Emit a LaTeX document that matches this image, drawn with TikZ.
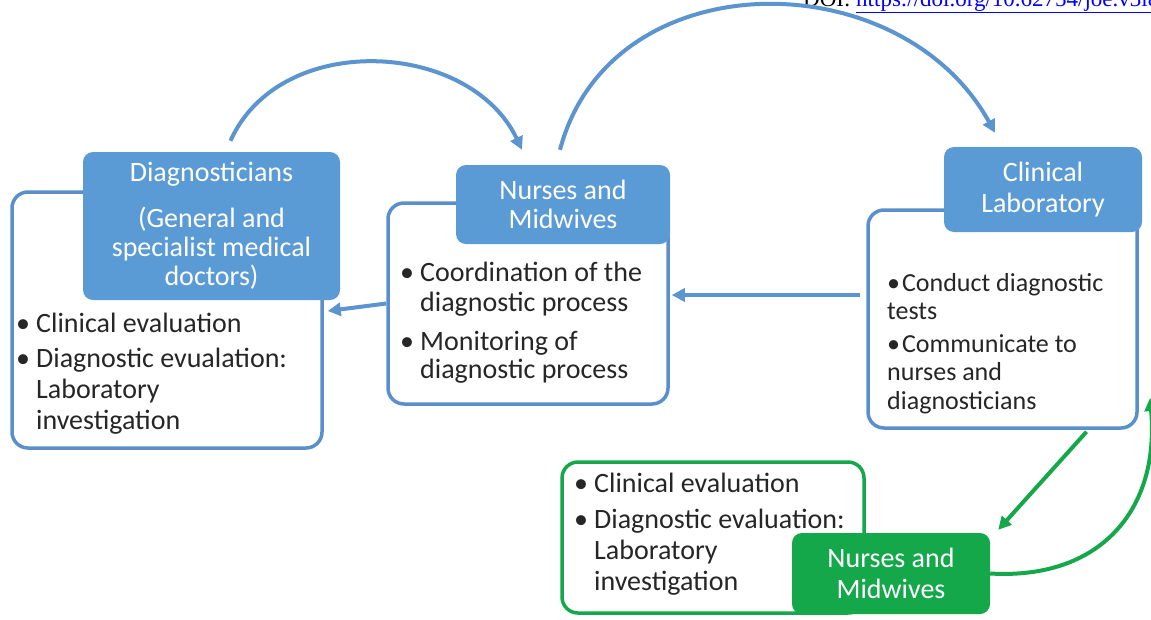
\documentclass[tikz,border=0pt]{standalone}
\usepackage{fontspec}
\setmainfont{Carlito}
\newfontfamily\doifont{Liberation Serif}
\usetikzlibrary{calc,arrows.meta}
\definecolor{hdrblue}{HTML}{5B9BD5}
\definecolor{brdblue}{HTML}{5A8FCB}
\definecolor{arrblue}{HTML}{5B94CF}
\definecolor{grn}{HTML}{14A84A}
\definecolor{txtgray}{HTML}{262626}
\definecolor{linkblue}{HTML}{0000FF}
\newcommand\bl{\makebox[20pt][l]{\textbullet}}
\newcommand\ind{\hspace*{20pt}}
\tikzset{
  bodybox/.style={draw=brdblue, line width=3.5pt, rounded corners=16pt, fill=white, inner sep=0pt},
  gbodybox/.style={bodybox, draw=grn},
  hdr/.style={fill=hdrblue, rounded corners=10pt, text=white, align=center, inner sep=0pt,
    font=\fontsize{28}{31}\selectfont},
  ghdr/.style={hdr, fill=grn},
  bodytxt/.style={anchor=north west, align=left, inner sep=0pt, text=txtgray,
    font=\fontsize{28}{31}\selectfont},
  arr/.style={draw=arrblue, line width=4pt, -{Triangle[length=13pt,width=13pt]}},
  garr/.style={arr, draw=grn}
}
\begin{document}
\begin{tikzpicture}[x=1pt,y=-1pt]
\fill[white] (0,0) rectangle (1151,619);
\useasboundingbox (0,0) rectangle (1151,619);

% DOI line (clipped at top, as in the reference)
\node[anchor=base west, inner sep=0pt, font=\doifont\fontsize{23}{25}\selectfont] (doi) at (803,6)
  {DOI: \textcolor{linkblue}{\underline{https://doi.org/10.62754/joe.v3i8.}}};

% body boxes
\node[bodybox, minimum width=310pt, minimum height=256pt] (dB) at (167,320) {};
\node[bodybox, minimum width=280pt, minimum height=201pt] (nB) at (528,303.5) {};
\node[bodybox, minimum width=269pt, minimum height=218pt] (lB) at (1002.5,319) {};
\node[gbodybox, minimum width=302pt, minimum height=151pt] (gB) at (713,537.5) {};

% headers
\node[hdr, minimum width=257pt, minimum height=148pt] (dH) at (211.5,226)
  {Diagnosticians\\[15pt](General and\\[-2pt]specialist medical\\[-2pt]doctors)};
\node[hdr, minimum width=214pt, minimum height=79pt] (nH) at (563,204.5)
  {Nurses and\\[-2pt]Midwives};
\node[hdr, minimum width=198pt, minimum height=85pt] (lH) at (1043,189.5)
  {Clinical\\Laboratory};
\node[ghdr, minimum width=198pt, minimum height=81pt] (gH) at (891,573.5)
  {Nurses and\\Midwives};

% body texts
\node[bodytxt] (dT) at (16,313)
  {\bl Clinical evaluation\\[4pt]\bl Diagnostic evualation:\\\ind Laboratory\\\ind investigation};
\node[bodytxt] (nT) at (400,262)
  {\bl Coordination of the\\[-1pt]\ind diagnostic process\\[8pt]\bl Monitoring of\\[-3pt]\ind diagnostic process};
\node[bodytxt, font=\fontsize{26}{28.5}\selectfont] (lT) at (887,273)
  {\textbullet\hspace{2pt}Conduct diagnostic\\tests\\[4pt]\textbullet\hspace{2pt}Communicate to\\nurses and\\diagnosticians};
\node[bodytxt] (gT) at (574,473)
  {\bl Clinical evaluation\\[5pt]\bl Diagnostic evaluation:\\\ind Laboratory\\\ind investigation};

% connectors
\draw[arr] ($(dH.north)+(19,-11)$) .. controls (280,30) and (470,40) .. ($(nH.north)+(-41,-15)$);
\draw[arr] ($(nH.north)+(-3,-15)$) .. controls (610,-40) and (900,-40) .. ($(lH.north)+(-48,-14)$);
\draw[arr] ($(lB.west)+(-6,-24)$) -- ($(nB.east)+(2,-8.5)$);
\draw[arr] (nB.west) -- ($(dB.east)+(4,-9)$);
\draw[garr] ($(lB.south)+(84,2)$) -- ($(gH.north east)+(8,-3)$);
\draw[garr] (gH.east) .. controls (1100,580) and (1160,510) .. (1150,398);
\end{tikzpicture}
\end{document}
